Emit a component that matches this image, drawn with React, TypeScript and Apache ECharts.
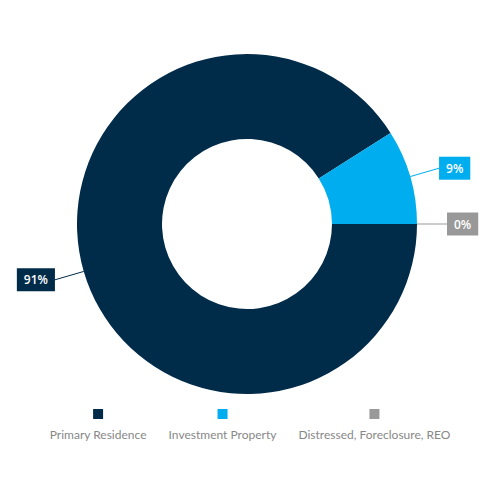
import React, { useEffect, useRef } from "react";
import * as echarts from "echarts";

const categories = ["Primary Residence", "Investment Property", "Distressed, Foreclosure, REO"];
const values = [91, 9, 0];
const colors = ["#002b49", "#00adef", "#999999"];

export default function App() {
  const ref = useRef<HTMLDivElement>(null);
  useEffect(() => {
    document.body.style.margin = "0";
    const chart = echarts.init(ref.current!, null, { renderer: "svg" });
    const richKeys = ["a", "b", "c"];
    const rich: any = {
      t: { color: "#888888", fontSize: 12, fontFamily: "Lato", align: "center", lineHeight: 16 },
    };
    richKeys.forEach((k, i) => {
      rich[k] = { width: 10, height: 10, backgroundColor: colors[i], align: "center" };
    });
    rich.g = { height: 7, align: "center" };
    chart.setOption({
      animation: false,
      legend: {
        bottom: 57,
        left: "center",
        itemWidth: 0,
        itemHeight: 0,
        itemGap: 17,
        icon: "rect",
        selectedMode: false,
        data: categories,
        formatter: (name: string) => {
          const i = categories.indexOf(name);
          return `{${richKeys[i]}|}\n{g|}\n{t|${name}}`;
        },
        textStyle: { rich },
      },
      series: [
        {
          type: "pie",
          center: [247, 224],
          radius: [85, 170],
          startAngle: 0,
          clockwise: true,
          avoidLabelOverlap: false,
          data: categories.map((c, i) => ({
            name: c,
            value: values[i],
            itemStyle: { color: colors[i] },
            label: { backgroundColor: colors[i] },
          })),
          label: {
            show: true,
            position: "outside",
            formatter: "{c}%",
            color: "#ffffff",
            fontSize: 12,
            fontWeight: 600,
            fontFamily: "Open Sans",
            padding: [6, 7, 5, 7],
            distanceToLabelLine: 0,
          },
          labelLine: { show: true, length: 30, length2: 0, lineStyle: { width: 1 } },
          emphasis: { disabled: true },
        },
      ],
    });
    return () => chart.dispose();
  }, []);
  return <div ref={ref} style={{ width: 495, height: 502 }} />;
}
